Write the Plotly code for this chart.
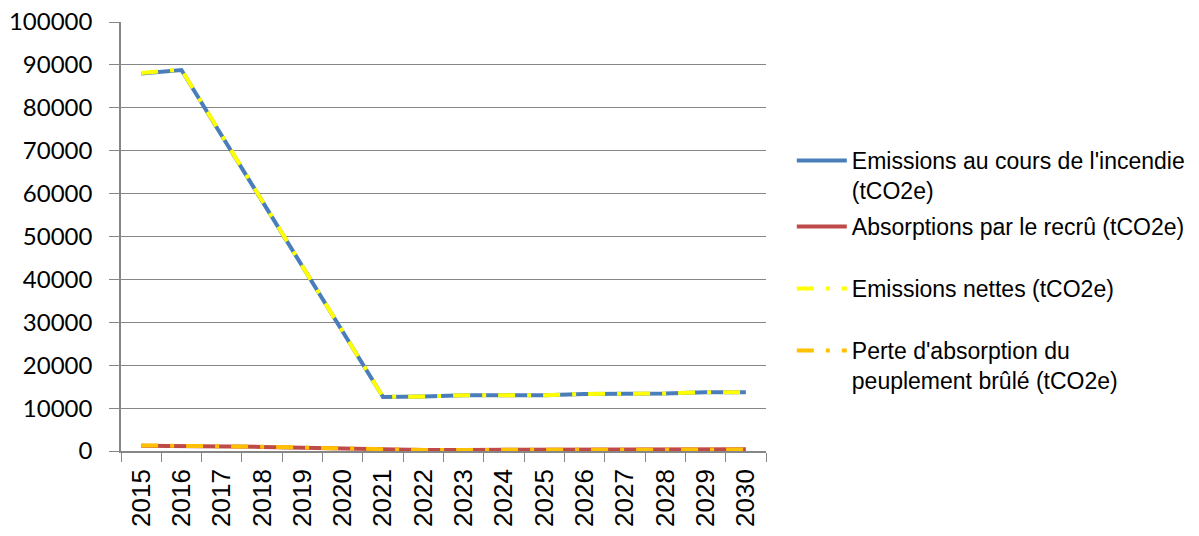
import plotly.graph_objects as go

years = [str(y) for y in range(2015, 2031)]

emissions_incendie = [88000, 88800, 73500, 58300, 43100, 27800, 12600, 12700,
                      13000, 13000, 13000, 13300, 13300, 13400, 13700, 13700]
absorptions_recru = [1200, 1150, 1050, 950, 750, 550, 300, 250,
                     250, 250, 250, 250, 250, 250, 350, 400]
emissions_nettes = [88100, 88900, 73600, 58400, 43200, 27900, 12600, 12700,
                    13000, 13000, 13000, 13300, 13300, 13400, 13700, 13700]
perte_absorption = [1300, 1250, 1150, 1000, 800, 600, 300, 250,
                    250, 250, 250, 250, 250, 250, 300, 350]

y_ticks = [0, 10000, 20000, 30000, 40000, 50000, 60000, 70000, 80000, 90000, 100000]

series = [
    ("Emissions au cours de l'incendie<br>(tCO2e)", emissions_incendie, "#4A7EBB", "solid"),
    ("Absorptions par le recrû (tCO2e)", absorptions_recru, "#BE4B48", "solid"),
    ("Emissions nettes (tCO2e)", emissions_nettes, "#FFFF00", "17px,12px,4px,12px"),
    ("Perte d'absorption du<br>peuplement brûlé (tCO2e)", perte_absorption, "#FFC000", "17px,12px,4px,12px"),
]

# one legend box per series so each entry sits at its own height
legend_ids = ["legend", "legend2", "legend3", "legend4"]
legend_tops = [0.7273, 0.5734, 0.4289, 0.2844]

fig = go.Figure()
for (name, vals, color, dash), lid in zip(series, legend_ids):
    fig.add_trace(go.Scatter(
        x=years, y=vals, name=name, mode="lines",
        line=dict(color=color, width=4, dash=dash),
        legend=lid,
    ))

legend_style = dict(
    x=1.04, xanchor="left", xref="paper",
    yanchor="top",
    valign="top",
    font=dict(family="Liberation Sans, Arial", size=23, color="#000000"),
    itemwidth=50,
    bgcolor="rgba(0,0,0,0)",
)

fig.update_layout(
    width=1199, height=536,
    margin=dict(l=121, r=433, t=22, b=85, autoexpand=False),
    plot_bgcolor="white", paper_bgcolor="white",
    font=dict(family="Liberation Sans, Arial", size=17, color="#000000"),
    showlegend=True,
    xaxis=dict(
        type="category",
        automargin=False,
        tickson="boundaries",
        ticks="outside", ticklen=9, tickcolor="#868686",
        showline=True, linecolor="#868686", linewidth=1.5,
        showgrid=False,
        tickangle=-90,
        ticklabelstandoff=6,
        tickfont=dict(family="Liberation Sans, Arial", size=26, color="#000000"),
        range=[-0.5, 15.5],
    ),
    yaxis=dict(
        range=[0, 100000],
        automargin=False,
        tickvals=y_ticks,
        ticktext=[str(v) for v in y_ticks],
        ticks="outside", ticklen=10, tickcolor="#868686",
        showline=True, linecolor="#868686", linewidth=1.5,
        showgrid=True, gridcolor="#868686", gridwidth=1,
        zeroline=False,
        ticklabelstandoff=12,
        tickfont=dict(family="Lato, Liberation Sans", size=24, color="#000000"),
    ),
)
for lid, top in zip(legend_ids, legend_tops):
    fig.update_layout({lid: dict(legend_style, y=top)})

fig.write_html("out.html")
